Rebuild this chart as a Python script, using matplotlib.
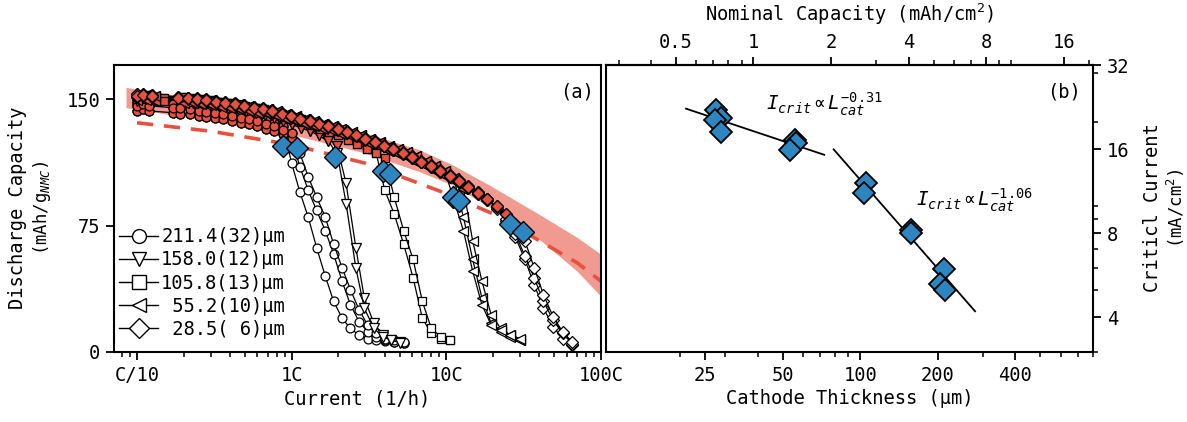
import matplotlib
matplotlib.use("Agg")
import matplotlib.pyplot as plt
from matplotlib.lines import Line2D
from matplotlib.ticker import FixedLocator, LogLocator, NullFormatter, FixedFormatter

plt.rcParams['font.family'] = ['DejaVu Sans Mono', 'DejaVu Sans']
plt.rcParams['mathtext.fontset'] = 'custom'
plt.rcParams['mathtext.rm'] = 'DejaVu Sans Mono'
plt.rcParams['mathtext.it'] = 'DejaVu Sans Mono:italic'
plt.rcParams['mathtext.bf'] = 'DejaVu Sans Mono:bold'

FS = 13.5

# ---------------- data: panel (a) ----------------
band_rate = [0.085, 0.3, 1.0, 3.0, 6.7, 11, 19, 41, 70, 100]
band_hi = [157, 149, 141, 130, 120, 111, 99, 81, 68, 58]
band_lo = [145, 137, 129, 118, 107, 99, 86, 66, 48, 33]

dash_rate = [0.1, 0.3, 1.0, 3.0, 10, 20, 40, 70, 100]
dash_cap = [136, 131, 123, 112, 94, 82, 66, 53, 42]

circle_rates = [0.10, 0.11, 0.12, 0.17, 0.19, 0.22, 0.25, 0.28, 0.32, 0.36, 0.41, 0.47, 0.53, 0.60,
                0.68, 0.77, 0.88, 1.00, 1.13, 1.28, 1.45, 1.65, 1.87, 2.12, 2.40, 2.73, 3.10, 3.50,
                4.00, 4.60, 5.30]
circle_caps = [
    [148, 149, 148, 147, 146.5, 146, 145, 144.5, 144, 143, 142, 141, 140, 139, 137.5, 136, 134,
     112, 95, 80, 62, 45, 30, 20, 14, 10, 8, 7, 6.5, 6, 5.5],
    [143, 144, 143, 142, 141.5, 141, 140, 139.5, 139, 138, 137, 136, 135, 134, 132.5, 131, 129.5,
     127, 110, 96, 84, 72, 58, 42, 28, 18, 12, 9, 7, 6, 5.5],
    [146, 147, 146, 145, 144.5, 144, 143, 142.5, 142, 141, 140, 139, 138, 137, 135.5, 134, 132,
     130, 118, 104, 92, 80, 64, 50, 37, 25, 16, 11, 8, 7, 6],
]
circle_crit = [0.88, 1.0, 1.0]

tri_rates = [0.10, 0.115, 0.13, 0.20, 0.23, 0.26, 0.30, 0.34, 0.39, 0.45, 0.51, 0.59, 0.67, 0.77,
             0.88, 1.00, 1.15, 1.32, 1.50, 1.72, 1.97, 2.25, 2.60, 2.95, 3.40, 3.90, 4.40, 5.00]
tri_caps = [
    [151, 152, 151, 150.5, 150, 149.5, 149, 148, 147, 146, 145, 144, 142.5, 141, 139, 137, 135,
     133, 130.5, 127, 122, 100, 62, 32, 17, 10, 7, 6],
    [149, 150, 149, 148.5, 148, 147.5, 147, 146, 145, 144, 143, 142, 140.5, 139, 137, 135, 133,
     131, 128.5, 125, 118, 88, 50, 26, 14, 9, 7, 5.5],
]
tri_crit = [1.97, 1.72]

sq_rates = [0.10, 0.115, 0.13, 0.15, 0.22, 0.25, 0.29, 0.33, 0.38, 0.44, 0.50, 0.58, 0.66, 0.76,
            0.87, 1.00, 1.15, 1.32, 1.52, 1.75, 2.00, 2.30, 2.65, 3.05, 3.50, 4.00, 4.60, 5.30,
            6.10, 7.00, 8.00, 9.20, 10.6]
sq_caps = [
    [152, 151, 151, 150.5, 150, 149.5, 149, 148.5, 148, 147, 146, 145, 144, 142.5, 141, 139.5,
     138, 136, 134, 132, 130, 127.5, 125, 122, 119, 96, 82, 64, 44, 20, 11, 8, 7],
    [150, 150, 149.5, 149, 148.5, 148, 147.5, 147, 146.5, 145.5, 144.5, 143.5, 142.5, 141, 139.5,
     138, 136.5, 134.5, 132.5, 130.5, 128.5, 126, 123.5, 120.5, 118, 115, 92, 72, 55, 30, 14, 9, 7],
]
sq_crit = [3.5, 4.0]

lt_rates = [0.10, 0.115, 0.13, 0.20, 0.23, 0.26, 0.30, 0.35, 0.40, 0.46, 0.53, 0.61, 0.70, 0.80,
            0.92, 1.06, 1.22, 1.40, 1.60, 1.85, 2.10, 2.45, 2.80, 3.20, 3.70, 4.25, 4.90, 5.60,
            6.40, 7.40, 8.50, 9.80, 11.2, 12.9, 14.8, 17.0, 19.5, 22.5, 26.0, 30.0]
lt_caps = [
    [151, 151, 150.5, 149.5, 149, 148.5, 148, 147, 146.5, 145.5, 144.5, 143.5, 142.5, 141.5, 140,
     138.5, 137, 135.5, 134, 132.5, 131, 129, 127, 125, 123, 121, 119, 117, 114.5, 112, 109, 106,
     103, 80, 55, 32, 17, 12, 9, 7],
    [149.5, 149.5, 149, 148, 147.5, 147, 146.5, 145.5, 145, 144, 143, 142, 141, 140, 138.5, 137,
     135.5, 134, 132.5, 131, 129.5, 127.5, 125.5, 123.5, 121.5, 119.5, 117.5, 115.5, 113, 110.5,
     107.5, 104.5, 101.5, 97, 66, 42, 22, 14, 10, 7],
    [152.5, 152.5, 152, 151, 150.5, 150, 149.5, 148.5, 148, 147, 146, 145, 144, 143, 141.5, 140,
     138.5, 137, 135.5, 134, 132.5, 130.5, 128.5, 126.5, 124.5, 122.5, 120.5, 118.5, 116, 113.5,
     110.5, 107.5, 90, 72, 48, 28, 16, 13, 10, 8],
]
lt_crit = [11.2, 12.9, 9.8]

dm_rates = [0.10, 0.11, 0.125, 0.185, 0.215, 0.245, 0.28, 0.325, 0.37, 0.43, 0.49, 0.57, 0.65,
            0.75, 0.86, 0.99, 1.14, 1.31, 1.5, 1.72, 1.98, 2.28, 2.62, 3.0, 3.45, 3.95, 4.55, 5.25,
            6.0, 6.9, 7.95, 9.15, 10.5, 12.1, 13.9, 16.0, 18.4, 21.2, 24.4, 28.0, 32.2, 37.0, 42.5,
            49.0, 56.5, 65.0]
dm_caps = [
    [153, 153, 152.5, 151.5, 151, 150.5, 150, 149, 148.5, 147.5, 146.5, 145.5, 144.5, 143.5, 142,
     140.5, 139, 137.5, 136, 134.5, 133, 131, 129, 127, 125, 123, 121, 118.5, 116, 113.5, 111,
     108, 105, 102, 98.5, 95, 91, 85, 78, 68, 55, 40, 26, 15, 8, 4],
    [151.5, 152, 151.5, 150.5, 150, 149.5, 149, 148, 147.5, 146.5, 145.5, 144.5, 143.5, 142.5,
     141, 139.5, 138, 136.5, 135, 133.5, 132, 130, 128, 126, 124, 122, 120, 117.5, 115, 112.5,
     110, 107, 104, 101, 97.5, 94, 90, 86, 79, 70, 57, 44, 30, 19, 11, 5],
    [152, 152.5, 152, 151, 150.5, 150, 149.5, 148.5, 148, 147, 146, 145, 144, 143, 141.5, 140,
     138.5, 137, 135.5, 134, 132.5, 130.5, 128.5, 126.5, 124.5, 122.5, 120.5, 118, 115.5, 113,
     110.5, 107.5, 104.5, 101.5, 98, 94.5, 90.5, 86.5, 82, 76, 66, 50, 34, 21, 12, 6],
]
dm_crit = [18.4, 21.2, 24.4]

crit_rate_a = [0.88, 1.09, 1.92, 3.92, 4.31, 11.0, 12.0, 25.8, 31.5]
crit_cap_a = [122.4, 121.0, 115.5, 107.6, 105.6, 92.2, 89.8, 76.0, 71.1]

legend_labels = ['211.4(32)µm', '158.0(12)µm', '105.8(13)µm', ' 55.2(10)µm', ' 28.5( 6)µm']
markers = ['o', 'v', 's', '<', 'D']

# ---------------- data: panel (b) ----------------
thick_b = [27.7, 28.9, 27.4, 28.9, 55.7, 56.2, 53.4, 105.3, 103.9, 157.8, 157.0, 210.5, 204.5, 214.0]
icrit_b = [22.2, 20.7, 20.4, 18.5, 17.3, 16.9, 15.96, 12.1, 11.2, 8.25, 8.0, 5.94, 5.25, 4.99]
fit1_x = [21.1, 72.5]
fit1_y = [22.4, 15.3]
fit2_x = [78.9, 279]
fit2_y = [16.0, 4.2]
um_per_mAh = 38.5

RED = '#E8503F'
BAND = '#F19A8F'
BLUE = '#2E86C1'

fig = plt.figure(figsize=(11.87, 4.22), dpi=100)
axA = fig.add_axes([0.0960, 0.1659, 0.4103, 0.6789])
axB = fig.add_axes([0.5103, 0.1659, 0.4105, 0.6789])

# ---------------- panel (a) ----------------
axA.fill_between(band_rate, band_lo, band_hi, color=BAND, lw=0, zorder=1)
axA.plot(dash_rate, dash_cap, color=RED, lw=2.6, dashes=(4.5, 3), zorder=2)

groups = [
    (circle_rates, circle_caps, circle_crit, 'o'),
    (tri_rates, tri_caps, tri_crit, 'v'),
    (sq_rates, sq_caps, sq_crit, 's'),
    (lt_rates, lt_caps, lt_crit, '<'),
    (dm_rates, dm_caps, dm_crit, 'D'),
]
ms_map = {'o': 6.4, 'v': 7.0, 's': 6.0, '<': 7.0, 'D': 5.8}
for rates, caps, crits, m in groups:
    for cap, cr in zip(caps, crits):
        ms = ms_map[m]
        axA.plot(rates, cap, color='k', lw=0.9, marker=m, ms=ms, mfc='white', mec='k',
                 mew=0.9, zorder=3)
        rr = [r for r in rates if r <= cr]
        cc = [c for r, c in zip(rates, cap) if r <= cr]
        axA.plot(rr, cc, ls='none', marker=m, ms=ms, mfc=RED, mec='k', mew=0.9, zorder=3.2)

axA.plot(crit_rate_a, crit_cap_a, ls='none', marker='D', ms=11.5, mfc=BLUE, mec='k', mew=1.0,
         zorder=5)

axA.set_xscale('log')
axA.set_xlim(0.071, 100)
axA.set_ylim(0, 170)
axA.xaxis.set_major_locator(FixedLocator([0.1, 1, 10, 100]))
axA.xaxis.set_major_formatter(FixedFormatter(['C/10', '1C', '10C', '100C']))
axA.xaxis.set_minor_locator(LogLocator(base=10, subs=[2, 3, 4, 5, 6, 7, 8, 9], numticks=20))
axA.xaxis.set_minor_formatter(NullFormatter())
axA.set_yticks([0, 75, 150])
axA.tick_params(which='major', direction='out', length=6, width=1.3, labelsize=FS, pad=4)
axA.tick_params(which='minor', direction='out', length=3.5, width=1.1)
axA.set_xlabel('Current (1/h)', fontsize=FS, labelpad=3)
for s in axA.spines.values():
    s.set_linewidth(1.5)
axA.text(0.985, 0.94, '(a)', transform=axA.transAxes, ha='right', va='top', fontsize=FS)

handles = [Line2D([0], [0], color='k', lw=1.0, marker=m, ms=10, mfc='white', mec='k', mew=1.0)
           for m in markers]
axA.legend(handles, legend_labels, loc='lower left', bbox_to_anchor=(-0.005, 0.02),
           frameon=False, fontsize=FS, handlelength=2.1, handletextpad=0.15,
           labelspacing=0.22, borderpad=0.2, borderaxespad=0.2)

fig.text(18 / 1187, 1 - 208 / 422, 'Discharge Capacity', rotation=90, ha='center', va='center',
         fontsize=FS)
fig.text(42 / 1187, 1 - 208 / 422, '(mAh/g$_{NMC}$)', rotation=90, ha='center', va='center',
         fontsize=12.5)

# ---------------- panel (b) ----------------
axB.plot(fit1_x, fit1_y, color='k', lw=1.3, zorder=2)
axB.plot(fit2_x, fit2_y, color='k', lw=1.3, zorder=2)
axB.plot(thick_b, icrit_b, ls='none', marker='D', ms=11, mfc=BLUE, mec='k', mew=1.3, zorder=3)

axB.set_xscale('log')
axB.set_yscale('log')
axB.set_xlim(10.3, 800)
axB.set_ylim(3.0, 32)
axB.xaxis.set_major_locator(FixedLocator([25, 50, 100, 200, 400]))
axB.xaxis.set_major_formatter(FixedFormatter(['25', '50', '100', '200', '400']))
axB.xaxis.set_minor_locator(LogLocator(base=10, subs=[1, 2, 3, 4, 5, 6, 7, 8, 9], numticks=20))
axB.xaxis.set_minor_formatter(NullFormatter())
axB.yaxis.set_major_locator(FixedLocator([4, 8, 16, 32]))
axB.yaxis.set_major_formatter(FixedFormatter(['4', '8', '16', '32']))
axB.yaxis.set_minor_locator(LogLocator(base=10, subs=[1, 2, 3, 4, 5, 6, 7, 8, 9], numticks=20))
axB.yaxis.set_minor_formatter(NullFormatter())
axB.yaxis.tick_right()
axB.tick_params(which='major', direction='out', length=6, width=1.3, labelsize=FS, pad=4)
axB.tick_params(which='minor', direction='out', length=3.5, width=1.1)
axB.set_xlabel('Cathode Thickness (µm)', fontsize=FS, labelpad=3)
for s in axB.spines.values():
    s.set_linewidth(1.5)

sec = axB.secondary_xaxis('top', functions=(lambda L: L / um_per_mAh, lambda c: c * um_per_mAh))
sec.xaxis.set_major_locator(FixedLocator([0.5, 1, 2, 4, 8, 16]))
sec.xaxis.set_major_formatter(FixedFormatter(['0.5', '1', '2', '4', '8', '16']))
sec.xaxis.set_minor_locator(LogLocator(base=10, subs=[1, 2, 3, 4, 5, 6, 7, 8, 9], numticks=20))
sec.xaxis.set_minor_formatter(NullFormatter())
sec.tick_params(which='major', direction='out', length=6, width=1.3, labelsize=FS, pad=4)
sec.tick_params(which='minor', direction='out', length=3.5, width=1.1)
sec.set_xlabel('Nominal Capacity (mAh/cm$^2$)', fontsize=FS, labelpad=8)
sec.spines['top'].set_linewidth(1.5)

axB.text(0.975, 0.94, '(b)', transform=axB.transAxes, ha='right', va='top', fontsize=FS)

fig.text(1153 / 1187, 1 - 208 / 422, 'Criticl Current', rotation=90, ha='center', va='center',
         fontsize=FS)
fig.text(1176 / 1187, 1 - 208 / 422, '(mA/cm$^2$)', rotation=90, ha='center', va='center',
         fontsize=12.5)


def fig_px(x, y):
    return (x / 1187, 1 - y / 422)


fig.text(*fig_px(766, 110), r'$I_{crit}\propto L_{cat}^{-0.31}$', fontsize=14, ha='left',
         va='baseline')
fig.text(*fig_px(916, 206), r'$I_{crit}\propto L_{cat}^{-1.06}$', fontsize=14, ha='left',
         va='baseline')

fig.savefig('out.png', dpi=100)
